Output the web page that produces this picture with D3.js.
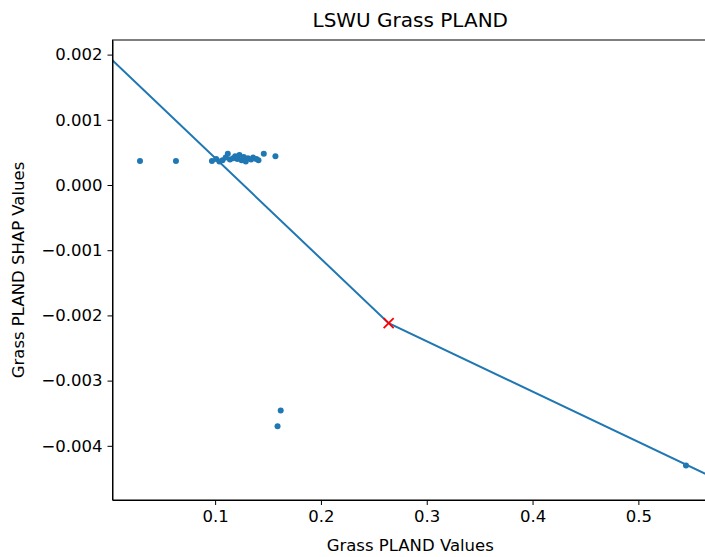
<!DOCTYPE html>
<html>
<head>
<meta charset="utf-8">
<script src="https://cdn.jsdelivr.net/npm/d3@7"></script>
<style>
  body { margin: 0; background: #fff; }
  text { font-family: "DejaVu Sans", sans-serif; fill: #000; }
  .axis path, .axis line { stroke: #000; stroke-width: 1; }
  .axis text { font-size: 16.5px; fill: #000; }
</style>
</head>
<body>
<svg id="chart"></svg>
<script>
  // scatter of SHAP values against Grass PLAND
  const pointX = [0.029, 0.063, 0.097, 0.101, 0.104, 0.107, 0.110, 0.112, 0.114, 0.117,
    0.119, 0.121, 0.123, 0.125, 0.127, 0.129, 0.131, 0.134, 0.136, 0.139, 0.141,
    0.146, 0.157, 0.159, 0.162, 0.545];
  const pointY = [0.00037, 0.00037, 0.00037, 0.00040, 0.00036, 0.00038, 0.00042, 0.00048,
    0.00039, 0.00041, 0.00044, 0.00040, 0.00046, 0.00038, 0.00043, 0.00036, 0.00041,
    0.00039, 0.00042, 0.00040, 0.00038, 0.00048, 0.00044, -0.00370, -0.00346, -0.00430];

  // piecewise fit line and its breakpoint
  const lineX = [0.0, 0.264, 0.57];
  const lineY = [0.00196, -0.00212, -0.00448];
  const breakX = 0.264, breakY = -0.00212;

  const xTicks = [0.1, 0.2, 0.3, 0.4, 0.5];
  const yTicks = [0.002, 0.001, 0, -0.001, -0.002, -0.003, -0.004];

  const W = 705, H = 557;
  const m = {left: 112.5, right: -3, top: 40, bottom: 57};
  const w = W - m.left - m.right, h = H - m.top - m.bottom;
  const blue = '#1f77b4';

  const svg = d3.select('#chart').attr('width', W).attr('height', H);

  const x = d3.scaleLinear().domain([0.00303, 0.5658]).range([0, w]);
  const y = d3.scaleLinear().domain([0.002224, -0.004831]).range([0, h]);

  const g = svg.append('g').attr('transform', `translate(${m.left},${m.top})`);

  g.append('clipPath').attr('id', 'clip')
    .append('rect').attr('width', w).attr('height', h);

  const plot = g.append('g').attr('clip-path', 'url(#clip)');

  const line = d3.line().x(d => x(d[0])).y(d => y(d[1]));
  plot.append('path')
    .datum(d3.zip(lineX, lineY))
    .attr('d', line)
    .attr('fill', 'none')
    .attr('stroke', blue)
    .attr('stroke-width', 2);

  plot.selectAll('.dot')
    .data(d3.zip(pointX, pointY))
    .enter()
    .append('circle')
      .attr('class', 'dot')
      .attr('cx', d => x(d[0]))
      .attr('cy', d => y(d[1]))
      .attr('r', 3)
      .attr('fill', blue);

  const s = 5;
  plot.append('path')
    .attr('d', `M${x(breakX) - s},${y(breakY) - s}L${x(breakX) + s},${y(breakY) + s}` +
               `M${x(breakX) - s},${y(breakY) + s}L${x(breakX) + s},${y(breakY) - s}`)
    .attr('stroke', 'red')
    .attr('stroke-width', 1.8);

  g.append('g')
    .attr('class', 'axis')
    .attr('transform', `translate(0,${h})`)
    .call(d3.axisBottom(x).tickValues(xTicks).tickFormat(d3.format('.1f')).tickSize(5).tickPadding(5).tickSizeOuter(0));

  g.append('g')
    .attr('class', 'axis')
    .call(d3.axisLeft(y).tickValues(yTicks).tickFormat(d3.format('.3f')).tickSize(5).tickPadding(5).tickSizeOuter(0));

  // frame
  g.append('rect')
    .attr('width', w).attr('height', h)
    .attr('fill', 'none').attr('stroke', '#000').attr('stroke-width', 1);

  svg.append('text')
    .attr('x', m.left + w / 2).attr('y', 27)
    .attr('text-anchor', 'middle')
    .style('font-size', '20px')
    .text('LSWU Grass PLAND');

  svg.append('text')
    .attr('x', m.left + w / 2).attr('y', 551)
    .attr('text-anchor', 'middle')
    .style('font-size', '16.5px')
    .text('Grass PLAND Values');

  svg.append('text')
    .attr('transform', `translate(24,${m.top + h / 2}) rotate(-90)`)
    .attr('text-anchor', 'middle')
    .style('font-size', '16.5px')
    .text('Grass PLAND SHAP Values');
</script>
</body>
</html>
